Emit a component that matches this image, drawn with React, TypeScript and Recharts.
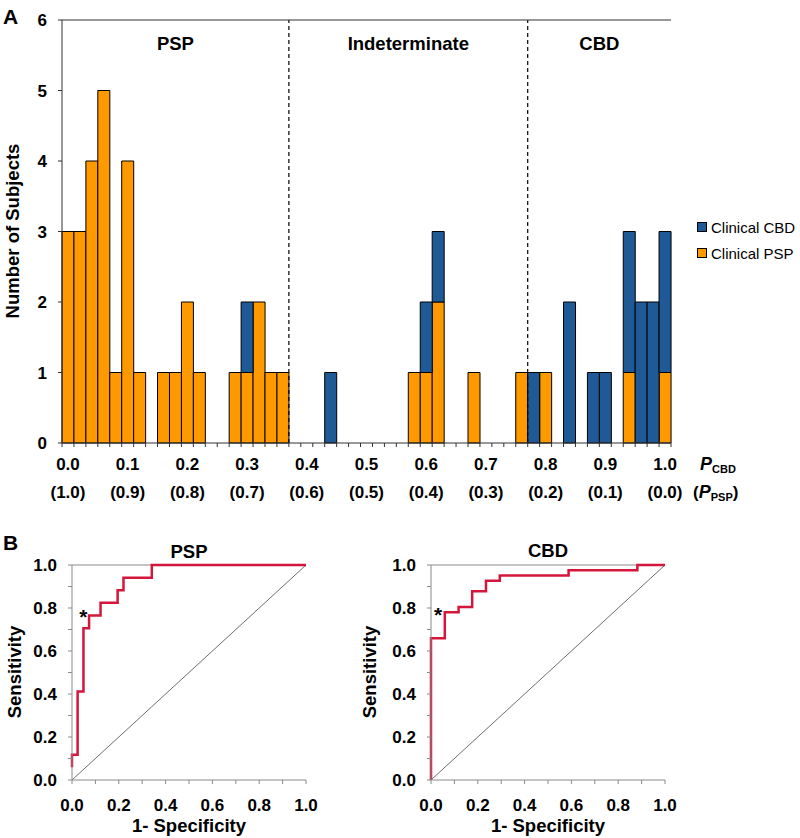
import React from 'react';
import {
  BarChart, Bar, XAxis, YAxis, ReferenceLine, ReferenceArea, Legend,
  LineChart, Line, ReferenceDot,
} from 'recharts';

const FONT = '"Liberation Sans", Arial, Helvetica, sans-serif';
const AXIS = '#333333';
const GRAY = '#8a8a8a';
const ORANGE = '#FF9900';
const BLUE = '#1F5A96';
const RED = '#D4163A';

// ---------- Panel A data ----------
const binLabels = [
  '0.00', '0.02', '0.04', '0.06', '0.08', '0.10', '0.12', '0.14', '0.16', '0.18',
  '0.20', '0.22', '0.24', '0.26', '0.28', '0.30', '0.32', '0.34', '0.36', '0.38',
  '0.40', '0.42', '0.44', '0.46', '0.48', '0.50', '0.52', '0.54', '0.56', '0.58',
  '0.60', '0.62', '0.64', '0.66', '0.68', '0.70', '0.72', '0.74', '0.76', '0.78',
  '0.80', '0.82', '0.84', '0.86', '0.88', '0.90', '0.92', '0.94', '0.96', '0.98',
  '1.00',
];
const clinicalPSP = [
  3, 3, 4, 5, 1, 4, 1, 0, 1, 1,
  2, 1, 0, 0, 1, 1, 2, 1, 1, 0,
  0, 0, 0, 0, 0, 0, 0, 0, 0, 1,
  1, 2, 0, 0, 1, 0, 0, 0, 1, 0,
  1, 0, 0, 0, 0, 0, 0, 1, 0, 0,
  1,
];
const clinicalCBD = [
  0, 0, 0, 0, 0, 0, 0, 0, 0, 0,
  0, 0, 0, 0, 0, 1, 0, 0, 0, 0,
  0, 0, 1, 0, 0, 0, 0, 0, 0, 0,
  1, 1, 0, 0, 0, 0, 0, 0, 0, 1,
  0, 0, 2, 0, 1, 1, 0, 2, 2, 2,
  2,
];
const pcbdTickLabels = ['0.0', '0.1', '0.2', '0.3', '0.4', '0.5', '0.6', '0.7', '0.8', '0.9', '1.0'];
const ppspTickLabels = ['(1.0)', '(0.9)', '(0.8)', '(0.7)', '(0.6)', '(0.5)', '(0.4)', '(0.3)', '(0.2)', '(0.1)', '(0.0)'];
const yTicksA = [0, 1, 2, 3, 4, 5, 6];
const regionNames = ['PSP', 'Indeterminate', 'CBD'];
const regionStart = ['0.00', '0.38', '0.78'];
const regionEnd = ['0.36', '0.76', '1.00'];
const cutoffBins = ['0.38', '0.78'];
const legendOrder = ['Clinical CBD', 'Clinical PSP'];

// ---------- Panel B data ----------
const pspFpr = [0, 0, 0.024, 0.049, 0.073, 0.122, 0.195, 0.220, 0.341, 1.0];
const pspTpr = [0.059, 0.118, 0.412, 0.706, 0.765, 0.824, 0.882, 0.941, 1.0, 1.0];
const cbdFpr = [0, 0, 0.059, 0.118, 0.176, 0.235, 0.294, 0.588, 0.882, 1.0];
const cbdTpr = [0, 0.659, 0.780, 0.805, 0.878, 0.927, 0.951, 0.976, 1.0, 1.0];
const diagX = [0, 1];
const diagY = [0, 1];
const rocTicks = [0, 0.1, 0.2, 0.3, 0.4, 0.5, 0.6, 0.7, 0.8, 0.9, 1.0];
const pspStar = { x: 0.048, y: 0.783 };
const cbdStar = { x: 0.03, y: 0.792 };

const histData = binLabels.map((b, i) => ({ bin: b, psp: clinicalPSP[i], cbd: clinicalCBD[i] }));
const toPts = (xs: number[], ys: number[]) => xs.map((x, i) => ({ x, y: ys[i] }));
const pspRoc = toPts(pspFpr, pspTpr);
const cbdRoc = toPts(cbdFpr, cbdTpr);
const diag = toPts(diagX, diagY);

// histogram layout
const HIST_W = 800;
const HIST_H = 540;
const HIST_LEFT = 62;
const HIST_RIGHT = 129;
const HIST_PLOT_W = HIST_W - HIST_LEFT - HIST_RIGHT;

const HistTick = (props: any) => {
  const { x, y, index } = props;
  const bw = HIST_PLOT_W / binLabels.length;
  const last = index === binLabels.length - 1;
  const k = index / 5;
  const txt = { fontFamily: FONT, fontWeight: 700, fontSize: 17, fill: '#000' } as any;
  return (
    <g>
      <line x1={x - bw / 2} x2={x - bw / 2} y1={y} y2={y + 4} stroke={AXIS} strokeWidth={1} />
      {last && <line x1={x + bw / 2} x2={x + bw / 2} y1={y} y2={y + 4} stroke={AXIS} strokeWidth={1} />}
      {index % 5 === 0 && (
        <g>
          <text x={x} y={y + 27} textAnchor="middle" {...txt}>{pcbdTickLabels[k]}</text>
          <text x={x} y={y + 55} textAnchor="middle" {...txt}>{ppspTickLabels[k]}</text>
        </g>
      )}
      {last && (
        <g>
          <text x={x + 35} y={y + 27} {...txt}>
            <tspan fontStyle="italic" fontSize={18}>P</tspan>
            <tspan fontSize={11} dy={3}>CBD</tspan>
          </text>
          <text x={x + 28} y={y + 55} {...txt}>
            <tspan>(</tspan>
            <tspan fontStyle="italic" fontSize={18}>P</tspan>
            <tspan fontSize={11} dy={3}>PSP</tspan>
            <tspan dy={-3}>)</tspan>
          </text>
        </g>
      )}
    </g>
  );
};

const HistLegend = (props: any) => {
  const items = [...(props.payload || [])].sort(
    (a: any, b: any) => legendOrder.indexOf(a.value) - legendOrder.indexOf(b.value),
  );
  return (
    <div style={{ fontFamily: FONT, fontSize: 15, color: '#000' }}>
      {items.map((it: any) => (
        <div key={it.value} style={{ display: 'flex', alignItems: 'center', height: 26 }}>
          <span style={{ display: 'inline-block', width: 8, height: 8, background: it.color, border: '1px solid #000', marginRight: 4 }} />
          <span>{it.value}</span>
        </div>
      ))}
    </div>
  );
};

const Star = (props: any) => (
  <text x={props.cx} y={props.cy + 12} textAnchor="middle" fontFamily={FONT} fontWeight={700} fontSize={21} fill="#000">*</text>
);

const rocTickFmt = (v: number, i: number) => (i % 2 === 0 ? v.toFixed(1) : '');

const RocChart = ({ data, star }: { data: { x: number; y: number }[]; star: { x: number; y: number } }) => (
  <LineChart width={330} height={300} margin={{ top: 27, right: 24, left: 0, bottom: 18 }}>
    <XAxis
      type="number" dataKey="x" domain={[0, 1]} ticks={rocTicks} interval={0}
      tickFormatter={rocTickFmt} tickSize={4} tickMargin={15} height={40}
      stroke={GRAY} tick={{ fill: '#000', fontSize: 17, fontWeight: 700, fontFamily: FONT }}
    />
    <YAxis
      type="number" dataKey="y" domain={[0, 1]} ticks={rocTicks} interval={0}
      tickFormatter={rocTickFmt} tickSize={4} tickMargin={11} width={72}
      stroke={GRAY} tick={{ fill: '#000', fontSize: 17, fontWeight: 700, fontFamily: FONT }}
    />
    <ReferenceLine y={1} stroke={GRAY} strokeWidth={1.2} />
    <Line data={diag} dataKey="y" type="linear" stroke="#6e6e6e" strokeWidth={1} dot={false} isAnimationActive={false} />
    <Line data={data} dataKey="y" type="stepAfter" stroke={RED} strokeWidth={2.5} dot={false} isAnimationActive={false} />
    <ReferenceDot x={star.x} y={star.y} r={0} shape={Star} />
  </LineChart>
);

export default function App() {
  const title = { fontFamily: FONT, fontWeight: 700, fontSize: 18.5, fill: '#000' } as any;
  return (
    <div style={{ position: 'absolute', left: 0, top: 0, width: 800, height: 838, background: '#fff', fontFamily: FONT }}>
      <div style={{ position: 'absolute', left: 0, top: 0 }}>
        <BarChart
          width={HIST_W} height={HIST_H} data={histData}
          margin={{ top: 20, right: HIST_RIGHT, left: 0, bottom: 0 }}
          barCategoryGap={0} barGap={0}
        >
          <XAxis
            dataKey="bin" interval={0} tickLine={false} tickSize={0} tickMargin={0}
            height={97} stroke={AXIS} tick={<HistTick />}
          />
          <YAxis
            domain={[0, 6]} ticks={yTicksA} interval={0} width={HIST_LEFT}
            tickSize={4} tickMargin={11} stroke={AXIS}
            tick={{ fill: '#000', fontSize: 17, fontWeight: 700, fontFamily: FONT }}
          />
          {regionNames.map((n, i) => (
            <ReferenceArea
              key={n} x1={regionStart[i]} x2={regionEnd[i]} y1={0} y2={6}
              fill="none" fillOpacity={0} stroke="none" ifOverflow="visible"
              label={{ value: n, position: 'insideTop', offset: 17, fill: '#000', fontSize: 18.5, fontWeight: 700, fontFamily: FONT }}
            />
          ))}
          <Bar dataKey="psp" name="Clinical PSP" stackId="a" fill={ORANGE} stroke="#000" strokeWidth={1} isAnimationActive={false} />
          <Bar dataKey="cbd" name="Clinical CBD" stackId="a" fill={BLUE} stroke="#000" strokeWidth={1} isAnimationActive={false} />
          {cutoffBins.map((c) => (
            <ReferenceLine key={c} x={c} position="start" stroke="#000" strokeWidth={1.2} strokeDasharray="4 3" />
          ))}
          <ReferenceLine y={6} stroke={AXIS} strokeWidth={1.2} />
          <ReferenceLine x={binLabels[binLabels.length - 1]} position="end" stroke={AXIS} strokeWidth={1.2} />
          <Legend
            layout="vertical" align="center" verticalAlign="middle"
            content={<HistLegend />}
            wrapperStyle={{ left: 697, top: 214, width: 110 }}
          />
        </BarChart>
      </div>
      <div style={{ position: 'absolute', left: 0, top: 538 }}>
        <RocChart data={pspRoc} star={pspStar} />
      </div>
      <div style={{ position: 'absolute', left: 359, top: 538 }}>
        <RocChart data={cbdRoc} star={cbdStar} />
      </div>
      <svg width={800} height={838} style={{ position: 'absolute', left: 0, top: 0, pointerEvents: 'none' }}>
        <text x={3} y={24} {...title} fontSize={21}>A</text>
        <text x={3} y={550} {...title} fontSize={21}>B</text>
        <text x={19} y={231} transform="rotate(-90 19 231)" textAnchor="middle" {...title}>Number of Subjects</text>
        <text x={189} y={558} textAnchor="middle" {...title}>PSP</text>
        <text x={548} y={557} textAnchor="middle" {...title}>CBD</text>
        <text x={189} y={832} textAnchor="middle" {...title}>1- Specificity</text>
        <text x={548} y={832} textAnchor="middle" {...title}>1- Specificity</text>
        <text x={21} y={672} transform="rotate(-90 21 672)" textAnchor="middle" {...title}>Sensitivity</text>
        <text x={376} y={672} transform="rotate(-90 376 672)" textAnchor="middle" {...title}>Sensitivity</text>
      </svg>
    </div>
  );
}
